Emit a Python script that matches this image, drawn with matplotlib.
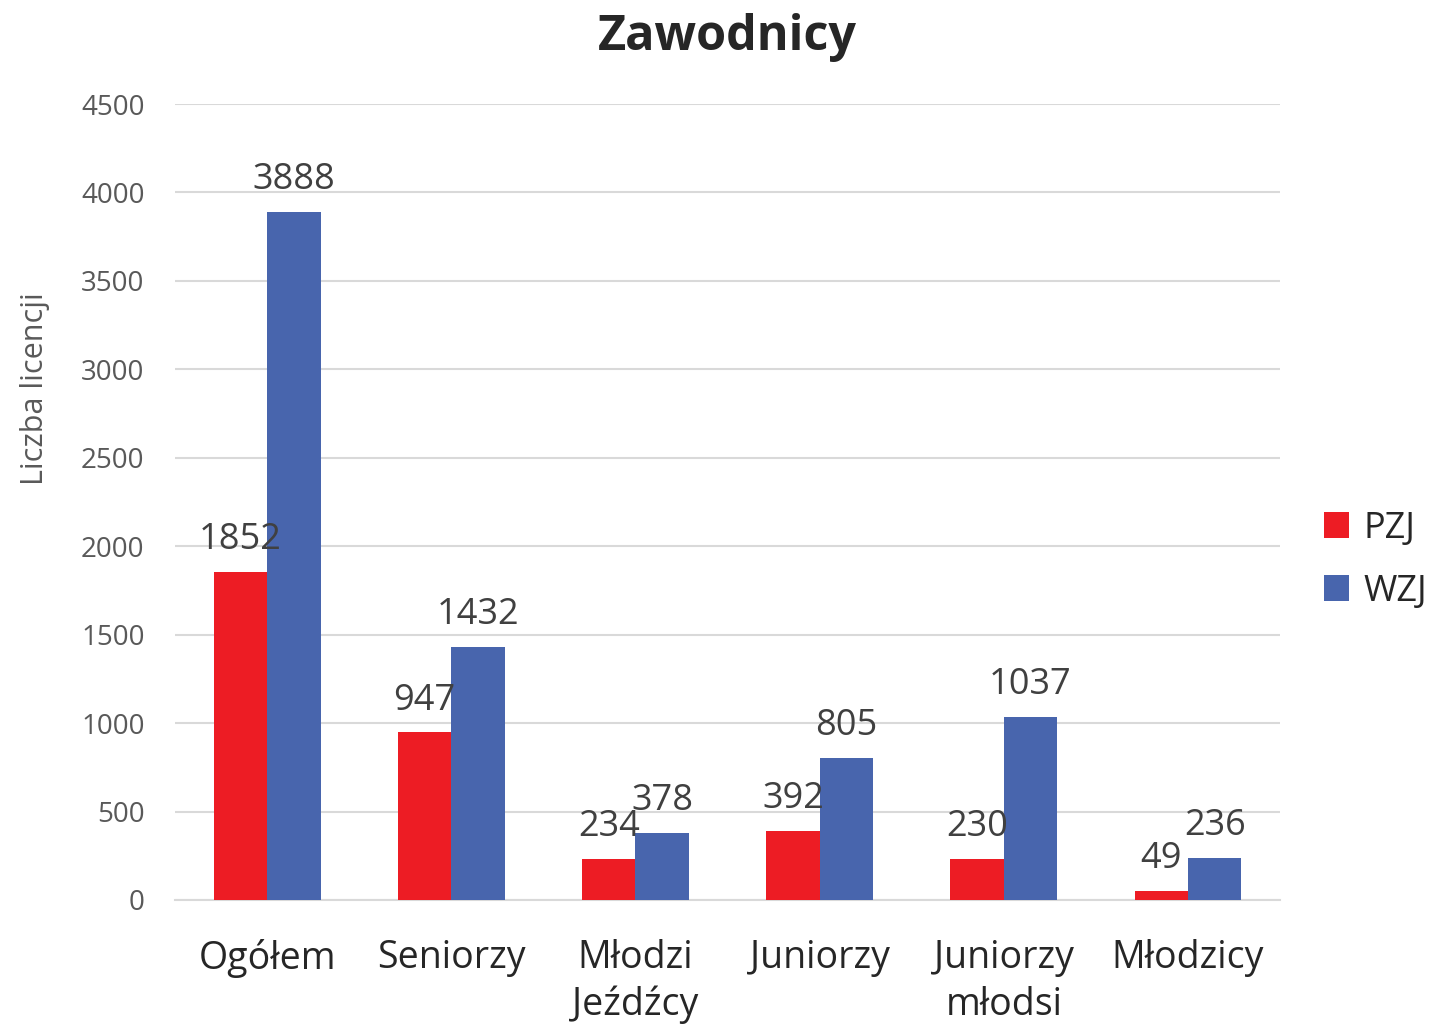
import numpy as np
import matplotlib.pyplot as plt

plt.rcParams['font.family'] = ['Open Sans', 'DejaVu Sans']

categories = ['Ogółem', 'Seniorzy', 'Młodzi\nJeźdźcy', 'Juniorzy', 'Juniorzy\nmłodsi', 'Młodzicy']
pzj = [1852, 947, 234, 392, 230, 49]
wzj = [3888, 1432, 378, 805, 1037, 236]

red = '#ED1C24'
blue = '#4865AD'

fig = plt.figure(figsize=(14.35, 10.25), dpi=100)
ax = fig.add_axes([0.122, 0.122, 0.770, 0.7765])

x = np.arange(len(categories))
w = 0.29
b1 = ax.bar(x - w / 2, pzj, w, color=red, label='PZJ', zorder=3)
b2 = ax.bar(x + w / 2, wzj, w, color=blue, label='WZJ', zorder=3)

for bars, vals in ((b1, pzj), (b2, wzj)):
    for r, v in zip(bars, vals):
        ax.annotate(str(v), (r.get_x() + r.get_width() / 2, v),
                    xytext=(0, 10), textcoords='offset points',
                    ha='center', va='bottom', fontsize=26, color='#404040', zorder=4)

ax.set_xlim(-0.5, len(categories) - 0.5)
ax.set_ylim(0, 4500)
ax.set_yticks(np.arange(0, 4501, 500))
ax.yaxis.grid(True, color='#D9D9D9', linewidth=1.5, zorder=0)
ax.set_axisbelow(True)
for s in ['top', 'right', 'left']:
    ax.spines[s].set_visible(False)
ax.spines['bottom'].set_color('#D9D9D9')
ax.spines['bottom'].set_linewidth(1.5)
ax.tick_params(axis='y', length=0, labelsize=20, labelcolor='#595959', pad=22)
ax.tick_params(axis='x', length=0, labelsize=27, labelcolor='#262626', pad=28)
ax.set_xticks(x)
ax.set_xticklabels(categories, linespacing=1.3)

ax.set_ylabel('Liczba licencji', fontsize=22, color='#595959')
ax.yaxis.set_label_coords(-0.113, 0.643)
fig.text(0.507, 0.963, 'Zawodnicy', ha='center', va='center',
         fontsize=35, fontweight='bold', color='#262626')

ax.legend(loc='center left', bbox_to_anchor=(1.04, 0.427), frameon=False,
          borderpad=0, borderaxespad=0,
          fontsize=26, handlelength=0.7, handleheight=0.7, labelspacing=0.75,
          handletextpad=0.4, labelcolor='#262626')

fig.savefig('out.png', dpi=100)
